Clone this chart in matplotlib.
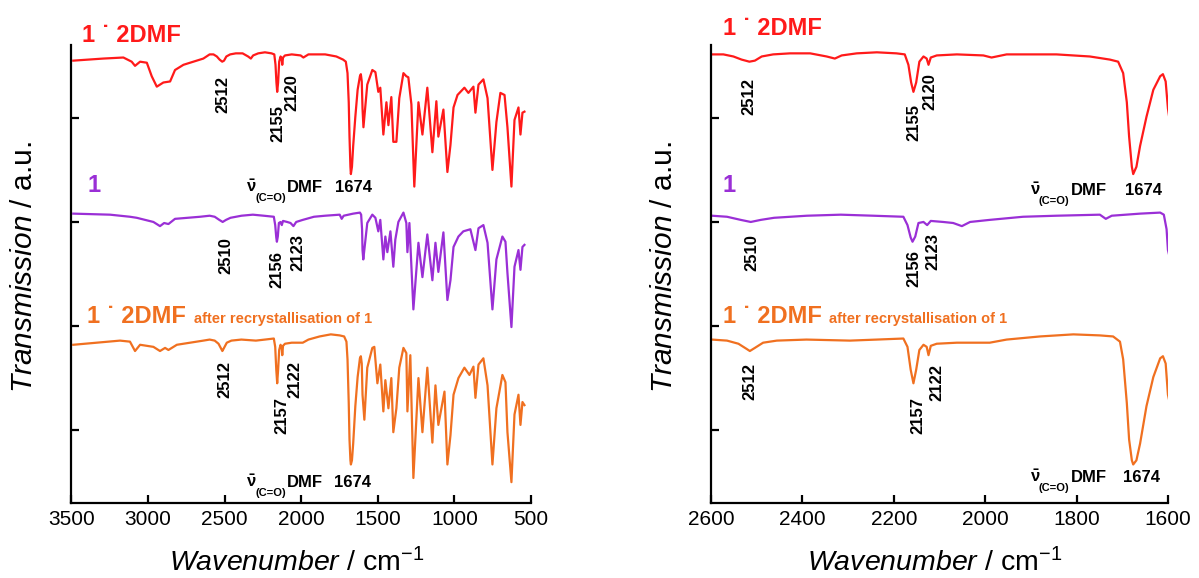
import matplotlib
matplotlib.use("Agg")
import matplotlib.pyplot as plt
from matplotlib.transforms import offset_copy

plt.rcParams['font.family'] = ['Liberation Sans', 'DejaVu Sans']
plt.rcParams['mathtext.fontset'] = 'custom'
plt.rcParams['mathtext.rm'] = 'Liberation Sans'
plt.rcParams['mathtext.it'] = 'Liberation Sans:italic'
plt.rcParams['mathtext.bf'] = 'Liberation Sans:bold'

# spectra (wavenumber in cm-1, transmission in a.u., already stacked)
wn_red = [3488, 3292, 3161, 3107, 3085, 3052, 3008, 2976, 2943, 2900, 2856, 2824, 2769, 2639,
          2598, 2573, 2551, 2533, 2516, 2504, 2489, 2464, 2427, 2383, 2347, 2329, 2314, 2281,
          2237, 2194, 2176, 2168, 2162, 2157, 2151, 2144, 2135, 2128, 2124, 2119, 2106, 2062,
          2004, 1986, 1975, 1953, 1844, 1771, 1727, 1709, 1698, 1690, 1685, 1679, 1676, 1669,
          1661, 1647, 1632, 1617, 1611, 1605, 1600,
          1594, 1569, 1536, 1516, 1497, 1484, 1464, 1444, 1431, 1412, 1399, 1379, 1360, 1333,
          1314, 1301, 1281, 1262, 1235, 1209, 1177, 1144, 1118, 1105, 1072, 1046, 1026, 1006,
          980, 935, 909, 876, 863, 843, 811, 784, 752, 726, 700, 673, 654, 628, 608, 582,
          569, 556, 543]
tr_red = [4.25, 4.27, 4.28, 4.24, 4.20, 4.24, 4.23, 4.10, 4.00, 4.04, 4.05, 4.16, 4.21, 4.27,
          4.31, 4.31, 4.29, 4.26, 4.24, 4.25, 4.29, 4.31, 4.32, 4.32, 4.29, 4.27, 4.30, 4.32,
          4.33, 4.32, 4.31, 4.21, 4.04, 3.95, 4.04, 4.24, 4.29, 4.27, 4.21, 4.28, 4.30, 4.31,
          4.30, 4.28, 4.29, 4.31, 4.31, 4.29, 4.26, 4.24, 4.13, 3.85, 3.52, 3.23, 3.16, 3.23,
          3.43, 3.71, 3.97, 4.10, 4.12, 4.05, 3.79,
          3.61, 4.02, 4.16, 4.14, 3.95, 3.99, 3.54, 3.85, 3.63, 3.90, 3.47, 3.47, 3.89, 4.13,
          4.10, 4.09, 3.83, 3.04, 3.85, 3.54, 3.99, 3.37, 3.86, 3.52, 3.78, 3.18, 3.44, 3.80,
          3.92, 3.99, 3.94, 4.00, 3.75, 4.02, 4.07, 3.89, 3.20, 3.66, 3.94, 3.92, 3.61, 3.04,
          3.68, 3.80, 3.54, 3.75, 3.76]

wn_purple = [3488, 3248, 3118, 3074, 2965, 2922, 2895, 2867, 2824, 2660,
             2598, 2565, 2535, 2513, 2491, 2462, 2390, 2316, 2245, 2179, 2170, 2163, 2159,
             2153, 2146, 2135, 2127, 2119, 2092, 2070, 2051, 2033, 1990, 1917, 1844, 1749,
             1736, 1723, 1661, 1617, 1609, 1603, 1600,
             1595, 1569, 1536, 1516, 1497, 1484, 1464, 1451, 1438, 1418, 1399, 1386, 1366,
             1333, 1314, 1307, 1294, 1268, 1235, 1209, 1177, 1144, 1124, 1105, 1072, 1046,
             1026, 1006, 974, 942, 896, 863, 843, 811, 784, 752, 726, 687, 667, 654, 628,
             608, 582, 569, 556, 543]
tr_purple = [2.78, 2.77, 2.75, 2.74, 2.70, 2.66, 2.69, 2.68, 2.73, 2.75,
             2.76, 2.75, 2.72, 2.70, 2.72, 2.74, 2.76, 2.77, 2.76, 2.75, 2.67, 2.55, 2.51,
             2.56, 2.69, 2.70, 2.67, 2.71, 2.70, 2.69, 2.66, 2.70, 2.72, 2.75, 2.76, 2.77,
             2.73, 2.76, 2.78, 2.79, 2.77, 2.63, 2.43,
             2.34, 2.69, 2.77, 2.74, 2.61, 2.72, 2.34, 2.56, 2.41, 2.61, 2.27, 2.53, 2.70,
             2.79, 2.69, 2.41, 2.69, 1.86, 2.50, 2.17, 2.58, 2.14, 2.50, 2.22, 2.60, 1.95,
             2.14, 2.46, 2.56, 2.61, 2.63, 2.43, 2.64, 2.67, 2.50, 1.86, 2.34, 2.56, 2.51,
             2.21, 1.69, 2.27, 2.43, 2.24, 2.46, 2.48]

wn_orange = [3488, 3183, 3118, 3085, 3052, 2965, 2922, 2889, 2867, 2812, 2639,
             2598, 2565, 2540, 2522, 2515, 2504, 2486, 2456, 2391, 2296, 2237, 2179, 2170,
             2163, 2157, 2151, 2144, 2135, 2128, 2124, 2119, 2106, 2062, 1990, 1953, 1880,
             1807, 1749, 1720, 1705, 1698, 1690, 1685, 1679, 1676, 1669, 1661, 1647, 1632,
             1617, 1611, 1605, 1600,
             1588, 1569, 1536, 1523, 1503, 1484, 1464, 1451, 1431, 1412, 1399, 1379, 1360,
             1333, 1314, 1307, 1288, 1268, 1235, 1209, 1177, 1144, 1124, 1105, 1065, 1046,
             1026, 1006, 974, 935, 902, 876, 863, 843, 811, 784, 752, 726, 687, 667, 654,
             628, 608, 582, 569, 556, 543]
tr_orange = [1.52, 1.56, 1.55, 1.46, 1.52, 1.50, 1.46, 1.49, 1.47, 1.52, 1.56,
             1.57, 1.56, 1.53, 1.48, 1.46, 1.49, 1.54, 1.56, 1.57, 1.56, 1.57, 1.58, 1.50,
             1.28, 1.15, 1.28, 1.47, 1.52, 1.50, 1.42, 1.51, 1.53, 1.54, 1.54, 1.57, 1.60,
             1.62, 1.61, 1.60, 1.55, 1.38, 0.96, 0.61, 0.41, 0.37, 0.41, 0.57, 0.93, 1.21,
             1.39, 1.41, 1.34, 1.04,
             0.80, 1.30, 1.49, 1.50, 1.15, 1.33, 0.88, 1.18, 0.91, 1.20, 0.68, 0.91, 1.30,
             1.49, 1.44, 0.88, 1.42, 0.24, 1.20, 0.68, 1.30, 0.58, 1.13, 0.75, 1.07, 0.37,
             0.65, 1.04, 1.20, 1.30, 1.23, 1.31, 1.01, 1.33, 1.39, 1.13, 0.37, 0.91, 1.23,
             1.16, 0.68, 0.20, 0.85, 1.04, 0.75, 0.97, 0.94]

RED = '#ff1a1a'
PURPLE = '#9a2fd6'
ORANGE = '#f07020'

# peak labels: (text, wavenumber, y) for left and right panels
peaks_left = [('2512', 2510, 3.92), ('2155', 2150, 3.65), ('2120', 2059, 3.94),
              ('2510', 2490, 2.375), ('2156', 2157, 2.245), ('2123', 2020, 2.41),
              ('2512', 2497, 1.19), ('2157', 2124, 0.84), ('2122', 2039, 1.19)]
peaks_right = [('2512', 2517, 3.91), ('2155', 2156, 3.66), ('2120', 2121, 3.95),
               ('2510', 2510, 2.41), ('2156', 2156, 2.25), ('2123', 2114, 2.42),
               ('2512', 2515, 1.17), ('2157', 2147, 0.84), ('2122', 2106, 1.16)]
# DMF carbonyl labels: (nu position, 1674 position, y)
dmf_left = [(2359, 1778, 2.99), (2359, 1785, 0.15)]
dmf_right = [(1902, 1694, 2.96), (1902, 1699, 0.20)]

fig = plt.figure(figsize=(11.99, 5.78), dpi=100)
ax1 = fig.add_axes([0.0596, 0.1298, 0.3833, 0.7923])
ax2 = fig.add_axes([0.593, 0.1298, 0.3811, 0.7923])

setup = [(ax1, (3500, 500), [3500, 3000, 2500, 2000, 1500, 1000, 500], peaks_left, dmf_left, 0.034, 0.023, 1.0066),
         (ax2, (2600, 1600), [2600, 2400, 2200, 2000, 1800, 1600], peaks_right, dmf_right, 0.026, 0.026, 1.022)]

for ax, xlim, xt, peaks, dmf, x0, xr, yr in setup:
    ax.plot(wn_red, tr_red, color=RED, lw=1.6)
    ax.plot(wn_purple, tr_purple, color=PURPLE, lw=1.6)
    ax.plot(wn_orange, tr_orange, color=ORANGE, lw=1.6)
    ax.set_xlim(*xlim)
    ax.set_ylim(0, 4.4)
    ax.set_xticks(xt)
    ax.set_yticks([0.7, 1.7, 2.7, 3.7])
    ax.set_yticklabels([])
    for s in ['top', 'right']:
        ax.spines[s].set_visible(False)
    for s in ['left', 'bottom']:
        ax.spines[s].set_linewidth(1.6)
    ax.tick_params(direction='in', length=6, width=1.6, labelsize=15, pad=5)

    ax.set_xlabel(r'$\mathit{Wavenumber}$ / cm$^{-1}$', fontsize=20.5)
    ax.xaxis.set_label_coords(0.49, -0.131)
    ax.xaxis.label.set_va('center')
    ax.set_ylabel(r'$\mathit{Transmission}$ / a.u.', fontsize=21.5)
    ax.yaxis.set_label_coords(-0.072, 0.515)

    for txt, x, y in peaks:
        ax.text(x, y, txt, rotation=90, ha='center', va='center', fontsize=12,
                fontweight='bold', color='black')

    sub_tr = offset_copy(ax.transData, fig=fig, x=6.5, y=-6.5, units='points')
    dmf_tr = offset_copy(ax.transData, fig=fig, x=29.5, y=0, units='points')
    for xn, x16, y in dmf:
        ax.text(xn, y, r'$\mathbf{\bar{\nu}}$', fontsize=12, ha='left', va='baseline')
        ax.text(xn, y, '(C=O)', transform=sub_tr, fontsize=8, fontweight='bold',
                ha='left', va='baseline')
        ax.text(xn, y, 'DMF', transform=dmf_tr, fontsize=12, fontweight='bold',
                ha='left', va='baseline')
        ax.text(x16, y, '1674', fontsize=12, fontweight='bold', ha='left', va='baseline')

    ax.text(xr, yr, '1 ˙ 2DMF', transform=ax.transAxes, color=RED, fontsize=17,
            fontweight='bold', va='baseline')
    ax.text(x0, 0.679, '1', transform=ax.transAxes, color=PURPLE, fontsize=17,
            fontweight='bold', va='baseline')
    ax.text(x0, 0.393, '1 ˙ 2DMF', transform=ax.transAxes, color=ORANGE, fontsize=17,
            fontweight='bold', va='baseline')
    ax.text(x0 + 0.232, 0.393, 'after recrystallisation of 1', transform=ax.transAxes,
            color=ORANGE, fontsize=10.5, fontweight='bold', va='baseline')

fig.savefig('out.png', dpi=100)
